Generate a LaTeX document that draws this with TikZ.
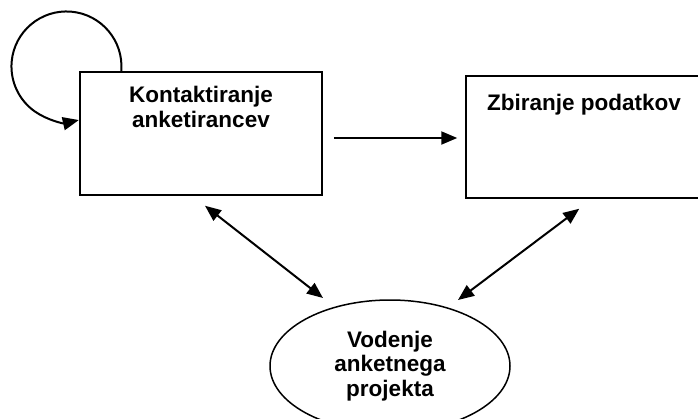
\documentclass[tikz,border=0pt]{standalone}
\usepackage{fontspec}
\setmainfont{Liberation Sans}
\usetikzlibrary{arrows.meta,shapes.geometric}
\tikzset{
  boxnode/.style={draw, line width=1.5pt, rectangle, inner sep=0pt},
  ellnode/.style={draw, line width=1.5pt, ellipse, inner sep=0pt, align=center,
    font=\bfseries\fontsize{22.5}{24.5}\selectfont},
  lbl/.style={inner sep=0pt, align=center, font=\bfseries\fontsize{22.5}{25}\selectfont},
  conn/.style={line width=2pt, -{Triangle[length=16pt,width=13pt]}},
  dconn/.style={line width=2pt, {Triangle[length=16pt,width=13pt]}-{Triangle[length=16pt,width=13pt]}},
}
\begin{document}
\begin{tikzpicture}[x=1pt,y=1pt]
\useasboundingbox (0,-418) rectangle (698,0);
\begin{scope}
\clip (0,-418) rectangle (698,0);
\node[boxnode, minimum width=242pt, minimum height=123pt] (kb) at (201,-133.5) {};
\node[lbl, anchor=north] (kbt) at (201,-86) {Kontaktiranje\\anketirancev};
\node[boxnode, minimum width=250pt, minimum height=122pt] (rb) at (591,-137) {};
\node[lbl, anchor=base west] (rbt) at (487,-110) {Zbiranje podatkov};
\node[ellnode, minimum width=240pt, minimum height=132pt] (ve) at (390,-366) {Vodenje\\anketnega\\projekta};
\end{scope}
\draw[conn] ([xshift=42pt]kb.north west) arc[start angle=-5, end angle=283, radius=55pt];
\draw[conn] ([xshift=11pt,yshift=-4.5pt]kb.east) -- ([xshift=-8pt,yshift=-1pt]rb.west);
\draw[dconn] ([shift={(4pt,-10pt)}]kb.south) -- ([shift={(-67pt,68pt)}]ve.center);
\draw[dconn] ([shift={(114pt,-10pt)}]rb.south west) -- ([shift={(68pt,66pt)}]ve.center);
\end{tikzpicture}
\end{document}
